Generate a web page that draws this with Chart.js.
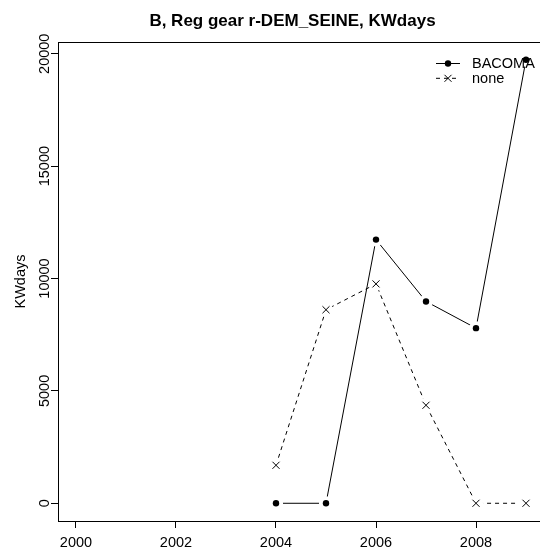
<!DOCTYPE html>
<html>
<head>
<meta charset="utf-8">
<script src="https://cdn.jsdelivr.net/npm/chart.js@4.4.0/dist/chart.umd.min.js"></script>
<style>
  html, body { margin: 0; padding: 0; background: #fff; overflow: hidden; width: 540px; height: 554px; }
  /* plot box runs a few px past the right edge, as in the R original */
  #chart { position: absolute; left: 0; top: 0; width: 551px; height: 554px; }
</style>
</head>
<body>
<canvas id="chart" width="551" height="554"></canvas>
<script>
// data
const years = [2004, 2005, 2006, 2007, 2008, 2009];
const bacoma = [0, 0, 11730, 8980, 7790, 19730];
const none = [1690, 8610, 9760, 4360, 0, 0];
const xTicks = [2000, 2002, 2004, 2006, 2008];
const yTicks = [0, 5000, 10000, 15000, 20000];
const seriesNames = ['BACOMA', 'none'];
const titleText = 'B, Reg gear r-DEM_SEINE, KWdays';
const yLabel = 'KWdays';

const FONT = '"Liberation Sans", Arial, Helvetica, sans-serif';
const toXY = ys => years.map((x, i) => ({ x, y: ys[i] }));

// R-like frame, tick labels, title and legend
const rStyle = {
  id: 'rStyle',
  afterDraw(chart) {
    const { ctx, chartArea: a, scales: { x, y } } = chart;
    ctx.save();
    ctx.strokeStyle = '#000';
    ctx.lineWidth = 1;
    ctx.strokeRect(Math.round(a.left) + 0.5, Math.round(a.top) + 0.5,
      Math.round(a.right - a.left), Math.round(a.bottom - a.top));

    ctx.fillStyle = '#000';
    ctx.font = '14.5px ' + FONT;
    ctx.textAlign = 'center';
    ctx.textBaseline = 'alphabetic';
    xTicks.forEach(v => ctx.fillText(String(v), x.getPixelForValue(v), 546.5));
    yTicks.forEach(v => {
      ctx.save();
      ctx.translate(49, y.getPixelForValue(v));
      ctx.rotate(-Math.PI / 2);
      ctx.fillText(String(v), 0, 0);
      ctx.restore();
    });
    ctx.save();
    ctx.translate(25, (a.top + a.bottom) / 2);
    ctx.rotate(-Math.PI / 2);
    ctx.fillText(yLabel, 0, 0);
    ctx.restore();

    // title
    ctx.font = 'bold 17px ' + FONT;
    ctx.fillText(titleText, 292.5, 26);

    // legend, top right
    ctx.font = '14.5px ' + FONT;
    ctx.textAlign = 'left';
    ctx.textBaseline = 'middle';
    seriesNames.forEach((name, i) => {
      const ly = 63 + i * 14.8;
      ctx.beginPath();
      ctx.setLineDash(i === 0 ? [] : [4, 4]);
      ctx.moveTo(436, ly + 0.5);
      ctx.lineTo(460, ly + 0.5);
      ctx.stroke();
      ctx.setLineDash([]);
      if (i === 0) {
        ctx.beginPath();
        ctx.arc(448, ly + 0.5, 3.2, 0, Math.PI * 2);
        ctx.fill();
      } else {
        ctx.beginPath();
        ctx.moveTo(444.5, ly - 3); ctx.lineTo(451.5, ly + 4);
        ctx.moveTo(451.5, ly - 3); ctx.lineTo(444.5, ly + 4);
        ctx.stroke();
      }
      ctx.fillText(name, 472, ly + 1);
    });
    ctx.restore();
  }
};

// type "b" look: line, then white discs to cut gaps, then the symbols
const lineBase = { showLine: true, pointRadius: 0, borderColor: '#000', borderWidth: 1, order: 3 };
const gapBase = { showLine: false, pointRadius: 7, pointBackgroundColor: '#fff', pointBorderWidth: 0, pointHoverRadius: 0, order: 2 };

new Chart(document.getElementById('chart'), {
  type: 'scatter',
  data: {
    datasets: [
      { ...lineBase, label: seriesNames[0], data: toXY(bacoma) },
      { ...lineBase, label: seriesNames[1], data: toXY(none), borderDash: [4, 4] },
      { ...gapBase, label: 'gap1', data: toXY(bacoma) },
      { ...gapBase, label: 'gap2', data: toXY(none) },
      { label: seriesNames[0] + ' pts', data: toXY(bacoma), showLine: false, pointStyle: 'circle',
        pointRadius: 3.2, pointBackgroundColor: '#000', pointBorderColor: '#000', pointBorderWidth: 0, order: 1 },
      { label: seriesNames[1] + ' pts', data: toXY(none), showLine: false, pointStyle: 'crossRot',
        pointRadius: 5, pointBorderColor: '#000', pointBorderWidth: 1, order: 1 }
    ]
  },
  options: {
    responsive: false,
    animation: false,
    devicePixelRatio: 1,
    layout: { padding: { top: 42, right: 0, left: 0, bottom: 0 } },
    plugins: { legend: { display: false }, tooltip: { enabled: false }, title: { display: false } },
    scales: {
      x: {
        type: 'linear', min: 1999.64, max: 2009.36,
        afterBuildTicks: s => { s.ticks = xTicks.map(v => ({ value: v })); },
        afterFit: s => { s.height = 33; s.paddingLeft = 0; s.paddingRight = 0; },
        ticks: { display: false },
        grid: { drawOnChartArea: false, tickLength: 7, color: '#000' },
        border: { display: true, color: '#000' }
      },
      y: {
        min: -789, max: 20522,
        afterBuildTicks: s => { s.ticks = yTicks.map(v => ({ value: v })); },
        afterFit: s => { s.width = 58; s.paddingTop = 0; s.paddingBottom = 0; },
        ticks: { display: false },
        grid: { drawOnChartArea: false, tickLength: 7, color: '#000' },
        border: { display: true, color: '#000' }
      }
    }
  },
  plugins: [rStyle]
});
</script>
</body>
</html>
